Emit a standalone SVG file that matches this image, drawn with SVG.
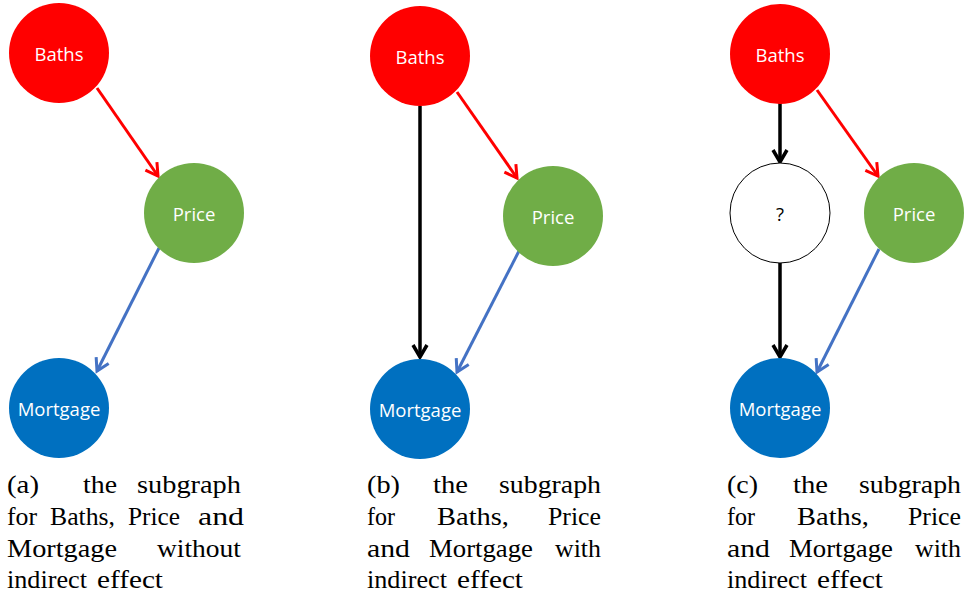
<svg xmlns="http://www.w3.org/2000/svg" width="966" height="596" viewBox="0 0 966 596">
<defs>
<style>
.n text{font-family:"Open Sans","Noto Sans",sans-serif;font-size:18.5px;fill:#fff;text-anchor:middle}
.red{fill:#FF0000}.green{fill:#70AD47}.blue{fill:#0070C0}.q{fill:#fff;stroke:#000;stroke-width:1}
.n text.dark{fill:#000}
.er{stroke:#FF0000;stroke-width:3;fill:none;marker-end:url(#ar)}
.eb{stroke:#4472C4;stroke-width:3;fill:none;marker-end:url(#ab)}
.ek{stroke:#000;stroke-width:3.5;fill:none;marker-end:url(#ak)}
.cap text{font-family:"Liberation Serif","Times New Roman",serif;font-size:26px;fill:#000}
</style>
<marker id="ar" markerUnits="userSpaceOnUse" viewBox="-16 -10 20 20" refX="0" refY="0" markerWidth="20" markerHeight="20" orient="auto"><path d="M-12,-7 L0,0 L-12,7" fill="none" stroke="#FF0000" stroke-width="3"/></marker>
<marker id="ab" markerUnits="userSpaceOnUse" viewBox="-16 -10 20 20" refX="0" refY="0" markerWidth="20" markerHeight="20" orient="auto"><path d="M-12,-7 L0,0 L-12,7" fill="none" stroke="#4472C4" stroke-width="3"/></marker>
<marker id="ak" markerUnits="userSpaceOnUse" viewBox="-16 -10 20 20" refX="0" refY="0" markerWidth="20" markerHeight="20" orient="auto"><path d="M-12,-7 L0,0 L-12,7" fill="none" stroke="#000" stroke-width="3.5"/></marker>
</defs>
<rect width="966" height="596" fill="#fff"/>
<g id="connectors">
<line class="er" x1="97" y1="88" x2="158" y2="176"/>
<line class="eb" x1="159" y1="248" x2="97" y2="371"/>
<line class="ek" x1="420" y1="106" x2="420" y2="357"/>
<line class="er" x1="457" y1="92" x2="517" y2="178"/>
<line class="eb" x1="519" y1="251" x2="457" y2="372"/>
<line class="ek" x1="780" y1="103" x2="780" y2="162"/>
<line class="ek" x1="780" y1="263" x2="780" y2="357"/>
<line class="er" x1="817" y1="90" x2="878" y2="176"/>
<line class="eb" x1="879" y1="249" x2="817" y2="372"/>
</g>
<g id="a-baths" class="n"><circle class="red" cx="59" cy="53" r="50"/><text x="59" y="60.5">Baths</text></g>
<g id="a-price" class="n"><circle class="green" cx="194" cy="213" r="50"/><text x="194" y="220.5">Price</text></g>
<g id="a-mortgage" class="n"><circle class="blue" cx="59" cy="408" r="50"/><text x="59" y="415.5">Mortgage</text></g>
<g id="b-baths" class="n"><circle class="red" cx="420" cy="56" r="50"/><text x="420" y="63.5">Baths</text></g>
<g id="b-price" class="n"><circle class="green" cx="553" cy="216" r="50"/><text x="553" y="223.5">Price</text></g>
<g id="b-mortgage" class="n"><circle class="blue" cx="420" cy="409" r="50"/><text x="420" y="416.5">Mortgage</text></g>
<g id="c-baths" class="n"><circle class="red" cx="780" cy="54" r="50"/><text x="780" y="61.5">Baths</text></g>
<g id="c-unknown" class="n"><circle class="q" cx="780" cy="213" r="50"/><text class="dark" x="780" y="220.5">?</text></g>
<g id="c-price" class="n"><circle class="green" cx="914" cy="213" r="50"/><text x="914" y="220.5">Price</text></g>
<g id="c-mortgage" class="n"><circle class="blue" cx="780" cy="408" r="50"/><text x="780" y="415.5">Mortgage</text></g>
<g id="caption-a" class="cap">
<text x="7" y="493" textLength="32" lengthAdjust="spacingAndGlyphs">(a)</text>
<text x="83" y="493" textLength="34" lengthAdjust="spacingAndGlyphs">the</text>
<text x="137" y="493" textLength="104" lengthAdjust="spacingAndGlyphs">subgraph</text>
<text x="7" y="525" textLength="30" lengthAdjust="spacingAndGlyphs">for</text>
<text x="50" y="525" textLength="65" lengthAdjust="spacingAndGlyphs">Baths,</text>
<text x="128" y="525" textLength="52" lengthAdjust="spacingAndGlyphs">Price</text>
<text x="198" y="525" textLength="46" lengthAdjust="spacingAndGlyphs">and</text>
<text x="7" y="557" textLength="110" lengthAdjust="spacingAndGlyphs">Mortgage</text>
<text x="157" y="557" textLength="84" lengthAdjust="spacingAndGlyphs">without</text>
<text x="7" y="588" textLength="80" lengthAdjust="spacingAndGlyphs">indirect</text>
<text x="97" y="588" textLength="66" lengthAdjust="spacingAndGlyphs">effect</text>
</g>
<g id="caption-b" class="cap">
<text x="367" y="493" textLength="33" lengthAdjust="spacingAndGlyphs">(b)</text>
<text x="433" y="493" textLength="35" lengthAdjust="spacingAndGlyphs">the</text>
<text x="499" y="493" textLength="102" lengthAdjust="spacingAndGlyphs">subgraph</text>
<text x="367" y="525" textLength="28" lengthAdjust="spacingAndGlyphs">for</text>
<text x="437" y="525" textLength="72" lengthAdjust="spacingAndGlyphs">Baths,</text>
<text x="548" y="525" textLength="53" lengthAdjust="spacingAndGlyphs">Price</text>
<text x="367" y="557" textLength="43" lengthAdjust="spacingAndGlyphs">and</text>
<text x="429" y="557" textLength="104" lengthAdjust="spacingAndGlyphs">Mortgage</text>
<text x="555" y="557" textLength="46" lengthAdjust="spacingAndGlyphs">with</text>
<text x="367" y="588" textLength="80" lengthAdjust="spacingAndGlyphs">indirect</text>
<text x="457" y="588" textLength="66" lengthAdjust="spacingAndGlyphs">effect</text>
</g>
<g id="caption-c" class="cap">
<text x="727" y="493" textLength="31" lengthAdjust="spacingAndGlyphs">(c)</text>
<text x="793" y="493" textLength="35" lengthAdjust="spacingAndGlyphs">the</text>
<text x="859" y="493" textLength="102" lengthAdjust="spacingAndGlyphs">subgraph</text>
<text x="727" y="525" textLength="28" lengthAdjust="spacingAndGlyphs">for</text>
<text x="797" y="525" textLength="72" lengthAdjust="spacingAndGlyphs">Baths,</text>
<text x="908" y="525" textLength="53" lengthAdjust="spacingAndGlyphs">Price</text>
<text x="727" y="557" textLength="43" lengthAdjust="spacingAndGlyphs">and</text>
<text x="789" y="557" textLength="104" lengthAdjust="spacingAndGlyphs">Mortgage</text>
<text x="915" y="557" textLength="46" lengthAdjust="spacingAndGlyphs">with</text>
<text x="727" y="588" textLength="80" lengthAdjust="spacingAndGlyphs">indirect</text>
<text x="817" y="588" textLength="66" lengthAdjust="spacingAndGlyphs">effect</text>
</g>
</svg>
